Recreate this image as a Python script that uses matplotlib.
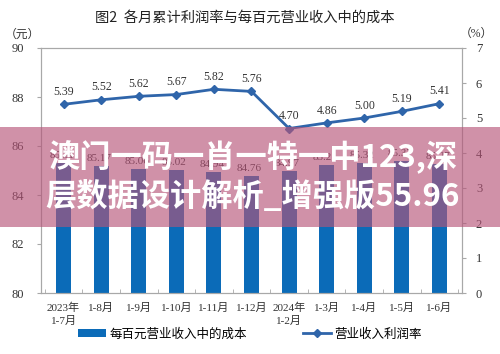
import matplotlib
matplotlib.use("Agg")
import matplotlib.pyplot as plt
from matplotlib.patches import Rectangle, Patch
from matplotlib.lines import Line2D
import numpy as np

categories = ["2023年\n1-7月", "1-8月", "1-9月", "1-10月", "1-11月", "1-12月",
              "2024年\n1-2月", "1-3月", "1-4月", "1-5月", "1-6月"]
cost_values = [85.31, 85.17, 85.06, 85.02, 84.94, 84.76, 84.97, 85.21, 85.32, 85.37, 85.27]
profit_rate = [5.39, 5.52, 5.62, 5.67, 5.82, 5.76, 4.70, 4.86, 5.00, 5.19, 5.41]
left_ticks = [80, 82, 84, 86, 88, 90]
right_ticks = [0, 1, 2, 3, 4, 5, 6, 7]

title = "图2  各月累计利润率与每百元营业收入中的成本"
bar_label = "每百元营业收入中的成本"
line_label = "营业收入利润率"
overlay_lines = ["澳门一码一肖一特一中123,深", "层数据设计解析_增强版55.96"]

SERIF = ["Liberation Serif", "Noto Sans CJK SC"]
SANS = ["Noto Sans CJK SC", "DejaVu Sans"]
plt.rcParams['font.family'] = SERIF

W, H = 500, 354
fig = plt.figure(figsize=(W / 100, H / 100), dpi=100)
ax = fig.add_axes([41 / W, 1 - 293 / H, (462 - 41) / W, (293 - 48) / H])
ax2 = ax.twinx()

bar_color = "#0B6BB8"
line_color = "#2F65AA"
spine_color = "#A8A8A8"
text_color = "#333333"

x = np.arange(len(categories))
ax.bar(x, cost_values, width=0.4, color=bar_color, zorder=2)
ax.set_ylim(80, 90)
ax.set_xlim(-0.6, len(categories) - 0.4)
ax.set_yticks(left_ticks)
ax.set_yticklabels([str(v) for v in left_ticks], fontsize=9, color=text_color)
ax.set_xticks(x)
ax.set_xticklabels(categories, fontsize=8, color=text_color, family=SERIF, linespacing=1.3)
ax.tick_params(axis='x', which='major', length=0, pad=7)
ax.set_xticks(np.arange(-0.5, len(categories), 1.0), minor=True)
ax.tick_params(axis='x', which='minor', length=3, direction='in', color=spine_color)
ax.tick_params(axis='y', length=3, direction='out', color=spine_color, pad=9)

for xi, v in zip(x, cost_values):
    ax.text(xi - 0.05, v + 0.12, f"{v:.2f}", ha='center', va='bottom', fontsize=8, color=text_color)

ax2.plot(x, profit_rate, color=line_color, lw=2, marker='D', markersize=4, zorder=3)
ax2.set_ylim(0, 7)
ax2.set_yticks(right_ticks)
ax2.set_yticklabels([str(v) for v in right_ticks], fontsize=9, color=text_color)
ax2.tick_params(axis='y', length=3, direction='out', color=spine_color, pad=7)
for xi, v in zip(x, profit_rate):
    ax2.text(xi, v + 0.18, f"{v:.2f}", ha='center', va='bottom', fontsize=8.5, color=text_color)

for a in (ax, ax2):
    for s in a.spines.values():
        s.set_color(spine_color)
        s.set_linewidth(0.8)

fig.text(0.49, 1 - 18 / H, title, ha='center', va='center', fontsize=10.3, family=SANS, color="#222222")
fig.text(22 / W, 1 - 35 / H, "（元）", ha='center', va='center', fontsize=8.5, family=SERIF, color=text_color)
fig.text(476 / W, 1 - 34 / H, "（%）", ha='center', va='center', fontsize=8.5, family=SERIF, color=text_color)

handles = [Patch(facecolor=bar_color, edgecolor='none'),
           Line2D([0], [0], color=line_color, lw=2, marker='D', markersize=4)]
fig.legend(handles, [bar_label, line_label], loc='center', bbox_to_anchor=(0.5, 1 - 334 / H),
           ncol=2, frameon=False, handlelength=2.2, handleheight=0.6,
           columnspacing=4.5, handletextpad=0.3, prop={'family': SANS, 'size': 9})

band = Rectangle((0, 1 - 227 / H), 1, 100 / H, transform=fig.transFigure,
                 facecolor=(182 / 255, 84 / 255, 120 / 255), alpha=0.64, edgecolor='none', zorder=10)
fig.patches.append(band)
for i, t in enumerate(overlay_lines):
    fig.text(0.505, 1 - (157 + 40 * i) / H, t, ha='center', va='center', fontsize=22.5,
             fontweight='bold', color='white', family=SANS, zorder=11)

fig.savefig("out.png", dpi=100)
